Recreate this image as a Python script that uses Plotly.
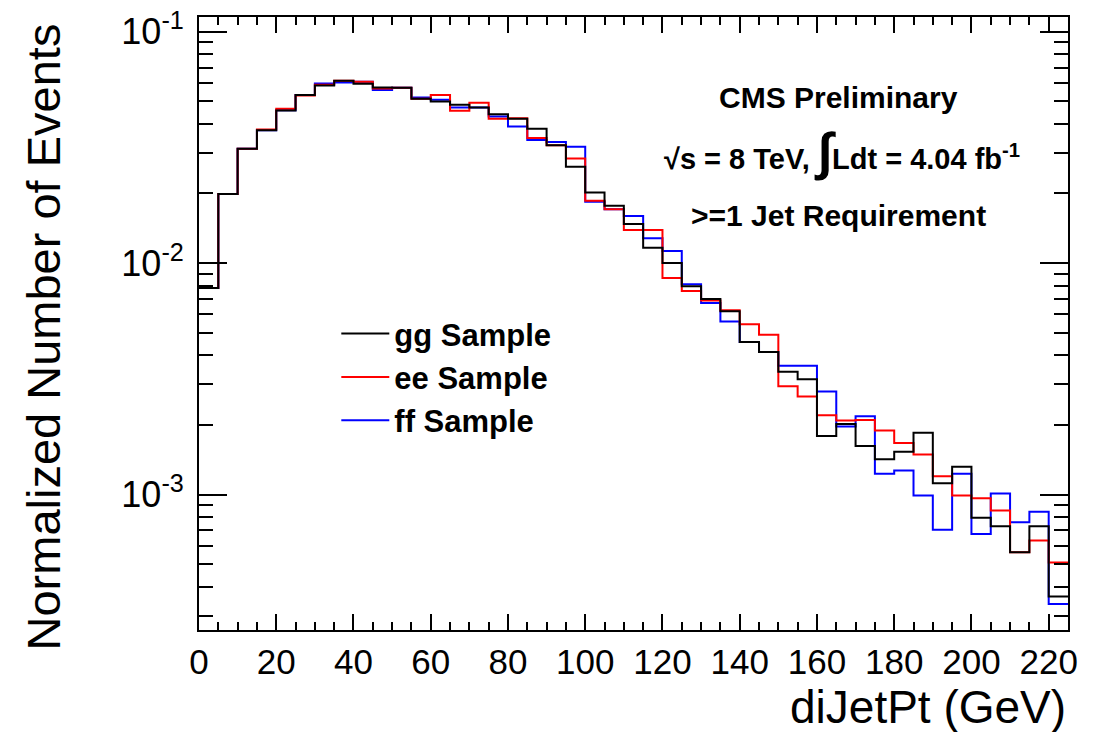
import numpy as np
import plotly.graph_objects as go

# ---- data (normalized entries per 5 GeV bin, 0-225 GeV) ----
bin_width = 5
n_bins = 45
gg_sample = [0.0078, 0.0199, 0.0312, 0.0375, 0.0456, 0.0532, 0.0586, 0.0614, 0.0596, 0.0574,
             0.0572, 0.0513, 0.0499, 0.0483, 0.0470, 0.0440, 0.0420, 0.0381, 0.0323, 0.0261,
             0.0202, 0.0177, 0.01476, 0.01164, 0.0100, 0.00795, 0.0070, 0.0062, 0.00456, 0.00413,
             0.00339, 0.00315, 0.00179, 0.00202, 0.00162, 0.00142, 0.00153, 0.00185, 0.00112, 0.00132,
             0.000794, 0.00073, 0.000563, 0.00073, 0.000363]
ee_sample = [0.0078, 0.0199, 0.0312, 0.0378, 0.0465, 0.0530, 0.0590, 0.0614, 0.0608, 0.0568,
             0.0572, 0.0513, 0.0532, 0.0455, 0.0493, 0.0420, 0.0423, 0.0347, 0.0323, 0.0283,
             0.0186, 0.0171, 0.0139, 0.0139, 0.00863, 0.00757, 0.0069, 0.00625, 0.00545, 0.0049,
             0.00294, 0.00265, 0.0022, 0.00209, 0.0021, 0.00189, 0.00167, 0.00149, 0.0012, 0.00099,
             0.000964, 0.000853, 0.000563, 0.000634, 0.000509]
ff_sample = [0.0078, 0.0199, 0.0312, 0.0375, 0.0458, 0.0532, 0.0597, 0.0603, 0.0608, 0.0560,
             0.0572, 0.0520, 0.0508, 0.0470, 0.0470, 0.0430, 0.0389, 0.0340, 0.0334, 0.0318,
             0.0184, 0.0171, 0.01597, 0.0128, 0.01127, 0.00811, 0.00673, 0.0056, 0.00456, 0.00413,
             0.0036, 0.0036, 0.00279, 0.00197, 0.00218, 0.00123, 0.00127, 0.00099, 0.000705, 0.00123,
             0.000676, 0.00101, 0.00076, 0.000844, 0.000337]

x_major_ticks = [0, 20, 40, 60, 80, 100, 120, 140, 160, 180, 200, 220]
y_major_ticks = [0.1, 0.01, 0.001]
y_major_labels = ["10<sup>-1</sup>", "10<sup>-2</sup>", "10<sup>-3</sup>"]

edges = np.arange(n_bins + 1) * bin_width

def step(vals):
    v = list(vals)
    return edges, v + [v[-1]]

FONT = "Liberation Sans, Arial, Helvetica, sans-serif"

fig = go.Figure()
series = [("ff Sample", ff_sample, "#0000ff", 3),
          ("ee Sample", ee_sample, "#ff0000", 2),
          ("gg Sample", gg_sample, "#000000", 1)]
for name, vals, col, rank in series:
    xs, ys = step(vals)
    fig.add_trace(go.Scatter(x=xs, y=ys, mode="lines", line=dict(color=col, width=2, shape="hv"),
                             name=name, legendrank=rank, legendgroup=name))

y_minor = [m * 10.0 ** e for e in (-4, -3, -2) for m in range(2, 10)]

fig.update_layout(
    width=1102, height=732,
    margin=dict(l=199, r=34, t=17, b=102, autoexpand=False),
    paper_bgcolor="white", plot_bgcolor="white",
    font=dict(family=FONT, color="black"),
    showlegend=True,
    legend=dict(x=0.158, y=0.527, xanchor="left", yanchor="top",
                font=dict(size=31, family=FONT, weight="bold"),
                bgcolor="rgba(0,0,0,0)", tracegroupgap=0, itemwidth=48),
    xaxis=dict(range=[0, 225], showline=True, mirror="allticks", linecolor="black", linewidth=2,
               showgrid=False, zeroline=False, ticks="inside", ticklen=16, tickwidth=1.5, tickcolor="black",
               tickvals=x_major_ticks, tickfont=dict(size=35, family=FONT), automargin=False,
               minor=dict(dtick=5, tick0=0, ticks="inside", ticklen=8, tickwidth=1.5, tickcolor="black", showgrid=False)),
    yaxis=dict(type="log", range=[np.log10(2.6e-4), np.log10(0.1157)], showline=True, mirror="allticks",
               linecolor="black", linewidth=2, showgrid=False, zeroline=False, automargin=False,
               ticks="inside", ticklen=28, tickwidth=1.5, tickcolor="black",
               tickvals=y_major_ticks, ticktext=y_major_labels, tickfont=dict(size=36, family=FONT),
               ticklabelstandoff=6,
               minor=dict(tickvals=y_minor, ticks="inside", ticklen=14, tickwidth=1.5, tickcolor="black", showgrid=False)),
)

annotations = [
    dict(text="Normalized Number of Events", textangle=-90, xref="paper", yref="paper",
         x=0, y=0.5, xshift=-156, yshift=-14, xanchor="center", yanchor="middle", showarrow=False,
         font=dict(size=47, family=FONT)),
    dict(text="diJetPt (GeV)", xref="paper", yref="paper", x=1, y=0, yshift=-77,
         xanchor="right", yanchor="middle", showarrow=False, font=dict(size=46, family=FONT)),
    dict(text="<b>CMS Preliminary</b>", xref="paper", yref="paper", x=0.736, y=0.869,
         xanchor="center", yanchor="middle", showarrow=False, font=dict(size=30, family=FONT)),
    dict(text="<b>\u221As = 8 TeV, <span style='font-size:52px'>\u222B</span>Ldt = 4.04 fb<sup>-1</sup></b>",
         xref="paper", yref="paper", x=0.74, y=0.781,
         xanchor="center", yanchor="middle", showarrow=False, font=dict(size=29, family=FONT)),
    dict(text="<b>>=1 Jet Requirement</b>", xref="paper", yref="paper", x=0.736, y=0.676,
         xanchor="center", yanchor="middle", showarrow=False, font=dict(size=30, family=FONT)),
]
fig.update_layout(annotations=annotations)

fig.write_html("out.html")
